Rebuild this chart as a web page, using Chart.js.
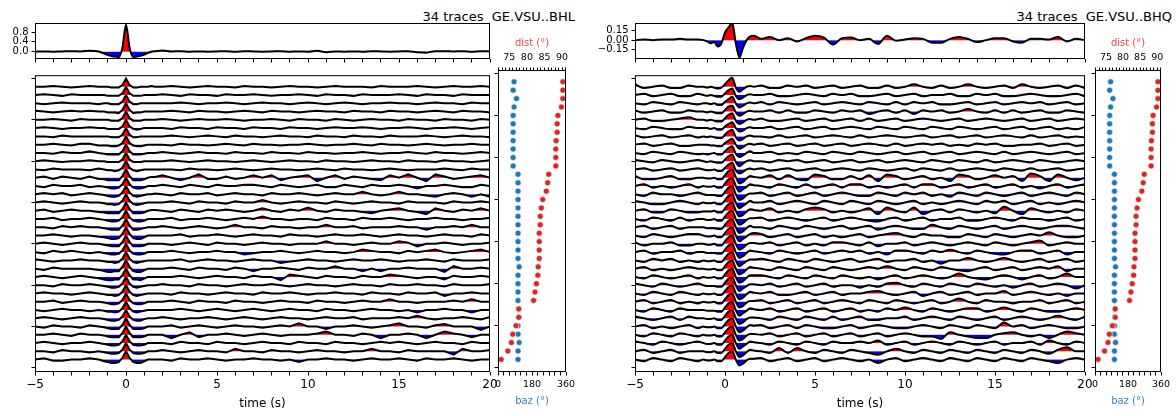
<!DOCTYPE html>
<html lang="en">
<head>
<meta charset="UTF-8">
<title>GE.VSU receiver functions</title>
<script src="https://cdn.jsdelivr.net/npm/chart.js"></script>
<style>
    body { margin: 0; background: #fff; font-family: 'DejaVu Sans', sans-serif; }
    #fig { position: relative; width: 1176px; height: 416px; overflow: hidden; }
    #fig canvas { position: absolute; }
    .title { position: absolute; top: 9px; font-size: 13px; line-height: 15px; white-space: pre; color: #000; }
</style>
</head>
<body>
<div id="fig">
    <div class="title" style="right: 601px">34 traces  GE.VSU..BHL</div>
    <div class="title" style="right: 4px">34 traces  GE.VSU..BHQ</div>
</div>
<script>
// time samples (s): coarse before/after, finer around the direct arrival
const timeAxis = [-5,-4.5,-4,-3.5,-3,-2.5,-2,-1.5,
    -1.2,-1,-0.8,-0.6,-0.4,-0.2,0,0.2,0.4,0.6,0.8,1,1.2,1.4,1.6,
    2,2.5,3,3.5,4,4.5,5,5.5,6,6.5,7,7.5,8,8.5,9,9.5,10,10.5,11,11.5,12,12.5,13,13.5,14,14.5,15,15.5,16,16.5,17,17.5,18,18.5,19,19.5,20];

// stacked traces (amplitude)
const stackL = [0,0.01,0,0.01,0.02,0.01,0.04,0.01,
    -0.08,-0.14,-0.18,-0.2,-0.22,0.15,1.1,0.15,-0.22,-0.2,-0.17,-0.12,-0.05,0,0.02,
    0.05,0.01,0.02,0,0.01,0,0.01,0.02,0,0.02, 0.01,0,0.01,0.02,0,0.01,0,0.04,-0.02,0.01,
    0,0.01,0,0.02,0.01,0,0.01,0.02,-0.02,-0.04, 0.02,0.02,0.01,0.02,0,0.02,0.01];
const stackR = [0,0.01,0,0.01,0.01,0.02,0.01,0.01,
    0,-0.02,-0.05,-0.03,-0.1,-0.05,0.12,0.2,0.27,-0.05,-0.27,-0.12,0,0.06,0.07,
    0.02,0.05,0,0.03,-0.02,0.03,0.07,0.04,-0.07,0.03, 0.04,0,0.02,-0.06,0.07,-0.01,0.01,0.03,0.02,-0.04,
    -0.04,0.02,0.05,0.02,-0.03,0,0.03,0.03,-0.02,-0.04, 0.02,0.02,0.01,0.05,-0.02,0.02,0];

// single traces, amplitude in tenths of the trace spacing (one row per trace, top to bottom)
const tracesL = [
    [0,0,1,0,-1,0,1,0, 0,0,-1,-1,-1,2,10,2,-1,-1,0,0,0,1,0, 0,1,0,-1,0,1,0,0,-1,1, 0,0,-1,0,1,0,0,-1,0,1, 0,0,0,-1,1,0,0,0,1,0, -1,0,1,0,0,1,0],
    [0,1,0,-1,1,0,0,0, 0,-1,-1,-1,-1,2,10,2,-1,-1,-1,0,0,0,0, 1,0,-1,1,0,0,-1,1,0,0, 1,0,-1,0,0,1,0,-1,1,0, 0,-1,1,0,0,0,1,0,-1,1, 0,0,-1,1,0,0,0],
    [0,-1,0,1,0,0,0,-1, 0,0,-1,-1,-1,2,10,2,-1,-1,0,0,0,0,0, 0,0,1,0,-1,0,0,1,0,-1, 0,1,0,0,-1,0,1,0,-1,0, 1,0,-1,0,0,1,0,0,-1,0, 1,0,0,-1,1,0,0],
    [1,0,-1,0,1,0,1,0, 0,-1,-1,-1,-2,2,10,2,-2,-1,-1,0,0,0,0, 0,1,0,-1,1,0,0,-1,0,1, 0,-1,1,0,0,-1,0,1,0,0, -1,1,0,0,-1,1,0,0,-1,0, 1,0,-1,1,0,0,-1],
    [0,0,1,0,-1,1,0,0, 0,0,-1,-1,-1,2,10,2,-1,-1,-1,0,0,0,0, 1,0,-1,0,1,0,0,1,0,-1, 0,0,1,0,-1,1,0,0,-1,1, 0,-1,0,1,0,0,-1,1,0,0, -1,1,0,0,-1,1,0],
    [0,1,0,-1,0,0,1,0, 0,-1,-1,-1,-1,2,10,2,-1,-2,-1,0,0,0,0, 0,-1,1,0,0,-1,1,0,0,-1, 1,0,0,-1,1,0,0,-1,0,1, 0,0,1,0,-1,0,0,1,0,-1, 0,0,1,0,-1,0,1],
    [0,0,-1,1,0,0,0,0, 0,0,-1,-1,-1,2,10,2,-1,-1,0,0,0,0,0, 0,1,0,-1,0,1,0,-1,1,0, 0,-1,0,1,0,0,-1,1,0,0, -1,1,0,0,-1,1,0,0,0,1, 0,-1,0,1,0,0,-1],
    [0,0,1,0,-1,1,1,-1, -1,-1,-2,-2,-1,2,10,2,-1,-2,-2,-1,0,0,0, 0,-1,1,0,0,-1,0,1,0,-1, 1,0,0,-1,0,0,1,0,-1,0, 0,1,0,-1,1,0,0,-1,0,1, 0,-1,0,0,1,0,0],
    [0,0,-1,1,0,0,2,0, -1,-2,-2,-2,-2,2,10,2,-2,-2,-2,-1,0,0,0, 1,0,-1,0,1,0,0,-1,1,0, 0,-1,1,0,0,-1,1,0,0,-1, 0,0,1,0,-1,0,0,1,0,-1, 1,0,0,-1,0,1,0],
    [0,1,0,-1,0,0,1,0, 0,-1,-1,-1,-1,2,10,2,-1,-1,-1,0,0,0,0, 0,1,0,-1,0,1,0,0,-1,0, 1,0,-1,0,1,0,0,-1,1,0, 0,-1,0,1,0,0,-1,1,0,0, -1,1,0,0,-1,0,1],
    [0,-1,1,0,0,0,-1,1, 0,-1,-1,-2,-1,2,10,2,-1,-2,-1,0,0,0,0, 0,0,-1,1,0,0,-1,0,1,0, -1,0,1,0,0,-1,0,1,0,-1, 1,0,0,-1,0,1,0,-1,0,0, 0,1,0,-1,1,0,0],
    [0,1.5,-1.5,1.5,0,-1.5,1.5,-1.5, -2,-3,-3,-3,-3,2,10,2,-3,-3,-3,-2,0,1,1, 3,0,-3,0,4,-1.5,-1.5,1.5,-1.5,0, 3,0,3,-3,0,1.5,3,-4,0,3, -1.5,1.5,0,-1.5,-3,3,0,4,0,-4, 4,1.5,-1.5,0,1.5,3,0],
    [0,-1.5,1.5,0,0,1.5,-1.5,0, -1,-2,-3,-3,-2,2,10,2,-2,-3,-3,-2,0,0,0, 1.5,0,-1.5,1.5,0,-1.5,1.5,0,0,1.5, 1.5,0,-1.5,1.5,0,-1.5,0,1.5,-1.5,-1.5, 1.5,0,-1.5,1.5,0,0,1.5,0,-3,0, 0,1.5,0,-1.5,-1.5,1.5,0],
    [0,1.5,0,1.5,-1.5,0,1.5,0, -1,-2,-3,-3,-2,2,10,2,-2,-3,-2,-1,0,0,1, 0,-1.5,1.5,0,0,1.5,-1.5,0,1.5,0, 0,-1.5,1.5,0,0,1.5,0,-1.5,0,1.5, 0,0,3,0,-1.5,0,3,0,0,-1.5, -3,0,1.5,0,-3,0,-3],
    [0,1.5,0,-1.5,0,1.5,0,0, -1,-2,-2,-3,-2,2,10,2,-2,-3,-2,-1,0,0,0, 0,1.5,0,-1.5,1.5,0,0,-1.5,1.5,0, 0,3,0,-1.5,0,1.5,0,0,-1.5,1.5, 0,-1.5,0,1.5,0,0,-1.5,1.5,0,0, 0,-1.5,1.5,0,0,1.5,0],
    [0,1.5,-1.5,0,1.5,0,0,-1.5, -2,-3,-3,-3,-3,2,10,2,-3,-3,-3,-2,0,1,1, 0,-1.5,1.5,0,-1.5,1.5,0,1.5,0,-1.5, 0,3,0,-1.5,1.5,0,4,0,-1.5,1.5, 0,0,-1.5,-3,0,1.5,3,0,-1.5,-4, 3,0,-1.5,1.5,0,3,0],
    [0,0,1.5,-1.5,0,0,1.5,0, -1,-2,-3,-3,-2,2,10,2,-2,-3,-3,-2,0,0,0, 0,1.5,-1.5,0,0,1.5,0,-1.5,0,1.5, 0,3,0,0,-1.5,0,0,-1.5,1.5,0, 0,-1.5,1.5,0,0,1.5,0,-1.5,0,0, 1.5,0,0,-1.5,0,0,1.5],
    [0,0,-1.5,1.5,0,1.5,0,0, -1,-2,-3,-3,-3,2,10,2,-3,-3,-2,-1,0,0,0, 1.5,0,-1.5,0,1.5,0,-1.5,0,3,0, 0,-1.5,1.5,0,0,-1.5,0,0,3,0, 0,1.5,-1.5,0,0,0,1.5,0,0,-3, 0,0,1.5,0,3,0,0],
    [0,0,1.5,0,-1.5,0,0,-1.5, -2,-3,-4,-4,-3,2,10,2,-3,-4,-4,-2,0,0,0, 0,0,1.5,-1.5,0,0,1.5,0,-1.5,0, 1.5,0,0,-1.5,1.5,0,0,-1.5,0,1.5, 0,0,1.5,0,-1.5,0,1.5,0,0,-1.5, 0,1.5,0,0,-1.5,1.5,0],
    [0,1.5,0,-1.5,0,1.5,0,0, -1,-2,-3,-3,-3,2,10,2,-3,-3,-3,-2,0,0,0, 0,-1.5,0,1.5,0,-1.5,1.5,0,0,-1.5, 0,1.5,0,0,-1.5,0,0,0,3,0, 0,-1.5,0,1.5,0,0,3,1.5,-3,0, 0,1.5,0,-1.5,0,0,1.5],
    [0,-1.5,1.5,0,1.5,0,-1.5,0, -1,-2,-3,-3,-2,2,10,2,-2,-3,-3,-2,0,0,0, 0,1.5,0,-1.5,0,0,1.5,0,0,-3, -1.5,0,0,1.5,0,-1.5,0,1.5,0,0, -1.5,0,3,1.5,0,0,-1.5,1.5,0,1.5, 3,0,-1.5,0,1.5,3,0],
    [1.5,0,-1.5,0,0,1.5,0,0, -1,-2,-2,-3,-2,2,10,2,-2,-3,-2,-1,0,0,0, 0,0,1.5,-1.5,0,1.5,0,0,-1.5,0, 1.5,0,0,-3,-1.5,0,1.5,0,0,-1.5, 0,1.5,0,0,1.5,0,-1.5,0,0,1.5, 0,-1.5,1.5,0,0,0,1.5],
    [0,-1.5,1.5,0,0,0,0,-1.5, -3,-4,-4,-3,-3,2,10,2,-3,-4,-4,-2,0,0,0, 0,1.5,0,-1.5,1.5,0,0,-1.5,1.5,0, -3,0,0,1.5,0,-1.5,1.5,0,0,3, 0,0,-3,0,-3,0,0,1.5,0,0, 0,-4,3,0,0,1.5,0],
    [0,1.5,0,-1.5,0,1.5,0,-1.5, -3,-4,-4,-3,-3,2,10,2,-3,-3,-4,-2,0,0,0, 0,0,1.5,0,-1.5,0,1.5,0,0,-1.5, 1.5,0,0,-4,3,1.5,0,-1.5,1.5,0, 0,-1.5,1.5,0,0,3,1.5,0,-1.5,0, 0,-3,1.5,0,0,1.5,0],
    [0,0,-1.5,1.5,0,0,1.5,0, -1,-2,-3,-3,-2,2,10,2,-2,-3,-2,-1,0,0,0, 1.5,0,0,-1.5,1.5,0,0,-1.5,0,1.5, 0,0,1.5,0,-1.5,0,1.5,0,0,-1.5, 0,1.5,0,0,-1.5,1.5,0,0,1.5,0, 0,-1.5,1.5,0,0,0,1.5],
    [0,1.5,0,0,-1.5,0,1.5,0, -1,-2,-2,-3,-2,2,10,2,-2,-3,-2,-1,0,0,0, 0,-1.5,1.5,0,0,-1.5,0,1.5,0,0, -1.5,1.5,0,0,1.5,0,-1.5,0,0,1.5, 0,0,-1.5,1.5,0,0,-1.5,1.5,0,0, 1.5,-3,0,0,1.5,0,0],
    [0,0,1.5,-1.5,0,1.5,0,0, -1,-2,-3,-3,-2,2,10,2,-2,-3,-3,-2,0,0,0, 0,1.5,0,-1.5,1.5,0,0,-1.5,1.5,0, 0,-1.5,0,1.5,0,0,-1.5,1.5,0,0, -1.5,0,1.5,0,0,3,0,0,-1.5,0, 0,0,1.5,0,3,0,0],
    [0,-1.5,0,1.5,0,0,-1.5,0, -1,-2,-2,-3,-2,2,10,2,-2,-3,-2,-1,0,0,0, 0,0,1.5,0,-1.5,0,1.5,0,-1.5,0, 1.5,0,-1.5,0,1.5,0,0,-1.5,1.5,0, 0,-1.5,0,1.5,0,0,-1.5,0,-3,0, 0,1.5,0,0,-3,0,0],
    [0,1.5,0,-1.5,0,1.5,0,0, -1,-2,-3,-3,-2,2,10,2,-2,-3,-3,-1,0,0,0, 1.5,0,-1.5,0,0,1.5,0,-1.5,0,1.5, 0,-1.5,0,1.5,0,0,-1.5,0,1.5,0, 0,1.5,-1.5,0,0,0,1.5,0,3,0, -1.5,0,0,1.5,0,-1.5,1.5],
    [0,-1.5,1.5,0,0,-1.5,1.5,0, -1,-2,-3,-3,-3,2,10,2,-3,-3,-3,-2,0,0,0, 0,1.5,-1.5,0,1.5,0,-1.5,0,1.5,0, 0,-1.5,0,1.5,0,4,0,0,-3,0, 0,1.5,0,-1.5,0,1.5,4,0,0,-1.5, 1.5,3,0,0,0,-4,0],
    [0,0,1.5,0,-1.5,1.5,0,0, -1,-2,-3,-3,-3,2,10,2,-3,-3,-3,-2,0,0,0, 0,-4,0,3,-3,0,0,1.5,0,-1.5, 0,1.5,0,-1.5,0,0,0,1.5,4,0, 0,-1.5,1.5,0,-4,0,0,1.5,0,-4, 0,4,1.5,0,-3,0,0],
    [0,1.5,0,-1.5,0,0,1.5,0, -1,-2,-3,-3,-2,2,10,2,-2,-3,-3,-2,0,0,0, 0,-1.5,1.5,0,0,-1.5,1.5,0,0,-1.5, 0,1.5,0,0,-1.5,1.5,0,0,-1.5,1.5, 0,0,-1.5,0,1.5,0,1.5,0,-1.5,0, 1.5,0,0,-1.5,1.5,0,0],
    [0,0,-1.5,1.5,0,0,-1.5,0, -1,-2,-3,-3,-2,2,10,2,-2,-3,-3,-2,0,0,0, 1.5,0,-1.5,0,1.5,0,0,-1.5,3,0, 0,-1.5,1.5,0,0,-1.5,0,1.5,0,0, -1.5,0,0,3,0,0,-1.5,1.5,0,0, 0,0,-4,3,0,0,1.5],
    [0,1.5,-1.5,-1.5,0,0,1.5,0, -2,-3,-4,-4,-3,2,10,2,-3,-4,-4,-2,0,0,0, 0,-1.5,1.5,0,0,1.5,0,-1.5,0,0, 1.5,0,0,-1.5,0,-3,0,0,1.5,0, 0,-1.5,0,1.5,0,0,1.5,0,-1.5,1.5, 0,0,1.5,0,-1.5,0,0]
];

const tracesR = [
    [3,-1.5,0,1.5,-1.5,-1.5,1.5,0, 0,-1,0,-1,-2,-1,3,8,11,-1,-6,-3,0,1,0, 1.5,-1.5,-1.5,1.5,0,1.5,-1.5,0,1.5,-1.5, 0,1.5,-1.5,-1.5,1.5,-1.5,0,3,0,-1.5, 1.5,-1.5,0,3,0,-1.5,0,1.5,-1.5,3, 0,-1.5,0,1.5,-1.5,1.5,-1.5],
    [0,1.5,-1.5,0,1.5,-1.5,-1.5,1.5, 0,-1,0,-1,-2,-2,2,6,8,-1,-5,-3,0,1,0, 0,1.5,-1.5,-1.5,0,1.5,0,-1.5,1.5,0, 1.5,-1.5,-1.5,0,1.5,-1.5,0,1.5,-1.5,0, 0,1.5,-1.5,-1.5,1.5,0,1.5,-1.5,-1.5,0, 1.5,0,-1.5,-1.5,0,1.5,-1.5],
    [0,-1.5,1.5,0,-1.5,1.5,0,-1.5, 0,0,-1,0,-2,-2,2,5,8,0,-5,-3,0,1,0, 1.5,-1.5,1.5,0,-1.5,0,1.5,-1.5,0,1.5, 0,-1.5,1.5,0,-1.5,1.5,-1.5,1.5,0,1.5, -1.5,-1.5,0,1.5,-1.5,0,1.5,-1.5,0,1.5, 0,1.5,-1.5,0,1.5,-1.5,0],
    [1.5,-1.5,0,1.5,-1.5,-1.5,1.5,0, 0,-1,0,-1,-2,-2,2,6,7,-1,-5,-3,0,1,0, 0,1.5,-1.5,1.5,-1.5,-1.5,1.5,0,-1.5,1.5, 0,1.5,-3,0,1.5,-1.5,1.5,-3,1.5,0, 1.5,-1.5,0,3,0,-1.5,1.5,-1.5,1.5,-1.5, 0,1.5,-1.5,-1.5,1.5,0,-1.5],
    [0,1.5,-1.5,-1.5,0,1.5,3,0, 0,-1,0,-1,-2,-2,2,6,8,-1,-5,-3,0,1,0, 1.5,-1.5,-1.5,0,1.5,-1.5,0,1.5,-1.5,0, 1.5,-1.5,1.5,-1.5,0,1.5,-1.5,0,1.5,0, -1.5,0,1.5,-1.5,0,1.5,0,-1.5,0,1.5, -1.5,0,1.5,-1.5,0,1.5,0],
    [0,-1.5,1.5,0,-1.5,-1.5,1.5,0, 0,0,-1,0,-2,-2,2,5,7,0,-4,-3,0,1,0, 0,1.5,-1.5,0,1.5,-1.5,0,1.5,-1.5,0, 1.5,0,-1.5,1.5,0,-1.5,1.5,0,-1.5,1.5, 0,-1.5,1.5,0,-1.5,0,1.5,-1.5,0,1.5, -1.5,0,1.5,-1.5,0,-1.5,1.5],
    [1.5,-1.5,0,1.5,-1.5,0,1.5,-1.5, 0,-1,0,-1,-2,-2,2,6,8,-1,-5,-3,0,1,0, 0,-1.5,1.5,-1.5,0,1.5,-1.5,0,1.5,0, -1.5,1.5,-1.5,0,1.5,0,-1.5,0,1.5,-1.5, 0,1.5,-1.5,0,1.5,-1.5,0,1.5,0,-1.5, 1.5,-1.5,0,1.5,-1.5,0,-1.5],
    [0,1.5,-1.5,0,1.5,-1.5,-1.5,0, 0,0,-1,-1,-2,-2,2,5,7,0,-5,-3,0,1,0, 1.5,-1.5,0,1.5,-1.5,0,1.5,-1.5,0,1.5, -1.5,0,1.5,0,-1.5,1.5,-1.5,0,1.5,0, 1.5,-1.5,0,-1.5,1.5,0,1.5,-1.5,-1.5,0, 0,1.5,-1.5,0,1.5,-1.5,0],
    [0,-1.5,1.5,0,-1.5,1.5,0,-1.5, -1,-2,-1,0,-2,-2,2,6,8,-1,-5,-3,0,2,0, 0,1.5,-1.5,0,-1.5,1.5,0,-1.5,1.5,0, -1.5,1.5,0,-1.5,0,1.5,-1.5,0,1.5,-1.5, 0,1.5,-1.5,0,1.5,0,-1.5,1.5,-1.5,0, 1.5,0,-1.5,0,1.5,-1.5,0],
    [1.5,0,-1.5,1.5,0,-1.5,0,1.5, 0,-1,0,-1,-2,-2,2,6,8,-1,-6,-3,0,1,0, 0,-1.5,1.5,0,1.5,-1.5,0,1.5,-1.5,0, 1.5,-1.5,0,1.5,-1.5,0,1.5,0,-1.5,1.5, 0,-1.5,1.5,0,-1.5,1.5,-1.5,0,1.5,0, -1.5,1.5,0,-1.5,0,1.5,0],
    [0,1.5,-1.5,0,1.5,-1.5,0,1.5, 0,-1,-1,0,-2,-2,2,6,8,-1,-5,-3,0,1,0, 1.5,-1.5,0,1.5,-1.5,0,1.5,-1.5,0,1.5, 0,-1.5,1.5,0,-1.5,0,1.5,-1.5,1.5,0, -1.5,1.5,-1.5,0,1.5,0,-1.5,1.5,0,-1.5, 1.5,-1.5,0,1.5,-1.5,0,1.5],
    [2,-2,-2,0,2,-2,-2,0, 0,-1,-1,0,-2,-2,3,8,10,1,-7,-5,-1,2,1, 0,3,-2,3,-2,-3,4,2,-2,-2, 2,-2,3,-4,4,2,-2,0,2,-2, 0,-4,4,2,-2,0,3,0,2,-4, 5,2,-4,4,0,-3,0],
    [0,2,-2,0,-2,0,2,-2, 0,-1,-1,0,-2,-2,3,8,10,0,-7,-4,-1,2,1, 0,-2,2,0,-2,2,-2,0,2,-2, 2,2,-2,0,-2,0,2,-2,2,2, -2,0,2,-2,0,2,-2,0,2,-2, 0,-3,0,2,-2,0,2],
    [0,-2,2,0,0,-2,0,2, 0,-1,-1,-1,-2,-2,3,8,10,0,-7,-5,-1,1,1, 2,-2,0,2,-2,0,2,-2,0,2, 0,-2,-2,2,0,-2,2,0,2,-2, 0,-3,2,0,-2,2,0,-2,0,2, -2,0,2,0,-2,2,0],
    [2,0,-2,-2,0,2,0,-2, 0,-1,-1,0,-2,-2,3,8,10,0,-7,-4,-1,2,0, 0,2,-2,0,2,0,-2,2,0,-2, 2,0,-2,2,0,-2,0,2,-2,0, -2,0,2,0,-2,2,0,2,-2,0, 2,-2,0,-2,0,2,0],
    [0,2,-2,-2,2,0,-2,-2, -1,-1,-1,0,-2,-2,3,8,10,0,-7,-5,-1,2,1, 0,3,-2,0,-2,2,4,2,-2,0, -2,0,3,-4,4,0,-2,4,-4,0, 2,-2,2,0,-2,0,-3,5,0,-4, 3,0,-2,0,-2,2,0],
    [0,-2,2,0,-2,2,-2,0, 0,-1,-1,0,-2,-2,3,8,10,0,-7,-5,-1,1,1, 2,-2,0,2,0,-2,0,2,-2,0, 2,0,-2,-3,0,2,-2,0,2,-2, 0,0,2,-2,-2,0,2,0,-2,2, 0,0,-2,0,2,-2,0],
    [0,2,-2,0,2,-2,0,0, 0,-1,-1,-1,-2,-2,3,8,10,0,-7,-5,-1,2,0, 0,-2,2,0,-2,2,0,-2,0,2, -2,0,2,-3,0,2,0,-2,-2,3, 0,-2,2,0,-2,0,2,-2,0,2, 0,-2,0,2,2,0,-2],
    [0,-2,2,0,-2,0,2,2, 0,-1,-1,0,-2,-2,3,8,10,0,-7,-4,-1,2,3, 2,-2,0,2,-2,0,2,-2,0,-2, 0,2,-2,0,2,3,0,-2,2,0, 0,-2,-2,2,0,-2,2,0,-2,0, 2,0,4,0,-2,-2,0],
    [2,-2,0,0,2,-2,-2,0, 0,-1,-1,0,-2,-2,3,8,10,0,-7,-5,-1,1,1, 0,2,-2,0,2,-2,0,-2,2,2, 0,-2,2,-3,0,0,2,-2,0,2, 0,-2,0,2,0,-2,2,0,-2,0, 2,4,-2,0,2,0,0],
    [0,2,-2,0,0,2,-2,0, 0,-1,-1,-1,-2,-2,3,8,10,0,-7,-5,-1,2,1, 0,-2,2,0,-2,0,2,-2,0,2, 0,2,-2,0,-3,2,2,0,-2,2, 0,3,0,-2,2,0,-2,-3,0,2, 2,-2,0,2,-3,0,0],
    [0,-2,2,0,2,-2,0,-2, 0,-1,-1,0,-2,-2,3,8,10,0,-7,-4,-1,1,1, 2,0,-2,2,0,-2,2,0,-2,0, 2,-2,0,2,-2,0,0,2,-2,0, -4,0,0,3,0,-2,0,3,0,-2, 0,2,-2,0,2,-2,0],
    [0,2,-2,0,-2,0,2,0, 0,-1,-1,0,-2,-2,3,8,10,0,-7,-5,-1,2,1, 0,-2,2,0,-2,2,0,-2,2,0, -2,0,2,0,3,0,-2,2,0,-2, 2,0,-2,-3,0,2,-2,0,2,-2, 0,2,0,3,-3,0,0],
    [0,-2,2,0,-2,0,2,-2, 0,-1,-1,0,-2,-2,3,8,10,0,-7,-5,-1,2,2, 2,0,-2,2,0,-2,2,0,-2,2, 0,-2,0,-3,0,2,-2,0,2,0, -2,0,4,0,-2,-3,0,2,0,-3, 0,2,-2,0,4,0,0],
    [2,0,-2,2,0,-2,0,2, 0,-1,-1,-1,-2,-2,3,8,10,0,-7,-4,-1,1,1, 0,2,-2,0,2,-2,0,2,-2,0, 0,-3,0,-2,2,3,0,-2,2,0, -2,2,0,-2,2,0,-2,0,-3,0, 2,-2,0,2,0,-4,0],
    [0,-2,2,0,-2,2,0,-2, 0,-1,-1,0,-2,-2,3,8,10,0,-7,-5,-1,2,1, 0,2,-2,-2,0,2,-2,0,2,-2, 0,0,2,3,0,-2,0,2,-3,0, 2,-2,0,2,-2,0,0,3,-2,0, 2,0,-2,0,-3,0,0],
    [0,2,-2,0,2,-2,0,-2, 0,-1,-1,0,-2,-2,3,8,10,0,-7,-5,-1,1,1, 2,-2,0,2,-2,0,2,-2,0,2, 0,-2,2,0,-2,2,0,-2,0,2, -2,0,4,0,-2,2,0,0,-2,0, 0,2,-2,0,2,-2,0],
    [0,-2,2,0,-2,2,0,0, 0,-1,-1,-1,-2,-2,3,8,10,0,-7,-4,-1,2,1, 0,2,-2,0,2,-2,0,2,-2,0, 2,-2,0,-2,2,0,3,0,-2,2, 0,-2,0,2,2,-2,0,3,0,-2, 2,0,-2,-2,0,2,0],
    [2,0,-2,0,2,-2,2,0, 0,-1,-1,0,-2,-2,3,8,10,0,-7,-5,-1,1,1, 0,-2,2,0,-2,2,0,-2,2,-2, 0,2,-2,-2,0,0,2,-2,0,2, 0,-2,2,0,-2,0,2,-2,0,2, 0,-2,0,3,0,-2,2],
    [0,2,-2,0,-2,0,2,-2, 0,-1,-1,0,-2,-2,3,8,10,0,-7,-5,-1,2,1, 2,-2,0,2,-2,2,0,-2,-2,0, 2,-2,0,2,0,-2,-2,0,2,0, -2,2,0,-2,2,0,-2,5,0,2, -2,0,2,0,-2,-2,0],
    [0,-2,2,0,-2,2,0,-2, 0,-1,-1,0,-2,-2,3,8,10,0,-7,-5,-1,1,1, 0,2,-2,0,2,-2,0,2,-2,0, 2,-2,0,2,-2,0,2,0,-2,-2, -5,3,0,-2,-4,-4,0,2,3,0, -2,0,-4,0,4,2,0],
    [2,0,-2,2,0,-2,0,2, 0,-1,-1,0,-2,-2,3,8,10,0,-7,-4,-1,2,1, 0,-2,2,0,-2,2,0,-2,2,0, 0,2,0,3,-2,0,2,-2,0,2, 0,-2,2,0,-2,0,2,-2,0,0, 2,-2,3,0,-2,2,0],
    [0,2,-2,0,2,-2,0,0, 0,-1,-1,0,-2,-2,3,8,10,0,-7,-5,-1,2,1, 0,-2,4,-2,4,0,-2,2,0,-2, 2,0,-2,-4,0,3,0,-2,2,0, -2,2,0,-2,2,0,-2,2,0,-2, 2,0,-3,2,5,0,0],
    [0,-2,2,0,-2,2,0,-2, 0,-1,-1,0,-2,-2,3,8,10,0,-7,-5,-1,1,1, 2,-2,0,2,-2,0,2,-2,0,2, 0,-2,0,-4,0,2,-2,0,2,0, -2,2,0,-2,2,0,-2,2,0,-2, 2,0,-2,-4,0,2,0]
];

// epicentral distance and back azimuth of each trace (degrees)
const dist = [90.2,90.2,90.2,89.8,88.8,88.6,88.6,88.3,88.2,88.2,88.2,86.2,85.9,85.5,84.5,84.1,83.8,83.8,
    83.5,83.5,83.5,83.5,83.2,83.1,82.7,82.3,81.9,77.7,77.7,76.9,76.0,75.6,74.6,72.7];
const baz = [85,80,98,85,80,80,80,80,80,80,80,106,106,106,106,106,106,106,106,106,106,106,112,106,
    106,106,106,110,110,106,106,112,106,106];

Chart.defaults.font.family = "'DejaVu Sans', sans-serif";
Chart.defaults.color = '#000';

const fig = document.getElementById('fig');
const rowMin = -0.4, rowMax = 35.5;

function fmt(v) {
    return String(v).replace('-', '\u2212');
}

// белый фон и рамка вокруг области графика
const framePlugin = {
    id: 'frame',
    beforeDraw(chart) {
        const a = chart.chartArea, ctx = chart.ctx;
        ctx.save();
        ctx.fillStyle = '#fff';
        ctx.fillRect(a.left, a.top, a.right - a.left, a.bottom - a.top);
        ctx.restore();
    },
    afterDraw(chart) {
        const a = chart.chartArea, ctx = chart.ctx;
        ctx.save();
        ctx.strokeStyle = '#000';
        ctx.lineWidth = 1;
        ctx.strokeRect(a.left + 0.5, a.top + 0.5, a.right - a.left - 1, a.bottom - a.top - 1);
        ctx.restore();
    }
};

const tickGrid = { drawOnChartArea: false, drawTicks: true, tickLength: 3.5, color: '#000', lineWidth: 1 };

// canvas placed so that its chart area lands on rect
function place(rect, pad, config) {
    const c = document.createElement('canvas');
    c.width = rect.w + pad.l + pad.r;
    c.height = rect.h + pad.t + pad.b;
    c.style.left = (rect.x - pad.l) + 'px';
    c.style.top = (rect.y - pad.t) + 'px';
    fig.appendChild(c);
    config.plugins = [framePlugin];
    Object.assign(config.options, {
        responsive: false,
        animation: false,
        devicePixelRatio: 1,
        events: []
    });
    config.options.plugins = { legend: { display: false }, tooltip: { enabled: false } };
    return new Chart(c, config);
}

function stackChart(rect, values, yMin, yMax, step, digits) {
    const pad = { l: 40, r: 8, t: 4, b: 8 };
    return place(rect, pad, {
        type: 'line',
        data: {
            datasets: [{
                data: timeAxis.map((t, j) => ({ x: t, y: values[j] })),
                borderColor: '#000', borderWidth: 2, pointRadius: 0,
                cubicInterpolationMode: 'monotone',
                fill: { target: 'origin', above: '#ff0000', below: '#0000ff' }
            }]
        },
        options: {
            layout: { padding: { left: 0, right: pad.r, top: pad.t, bottom: 0 } },
            scales: {
                x: {
                    type: 'linear', min: -5, max: 20,
                    ticks: { stepSize: 1, autoSkip: false, callback: () => '' },
                    grid: tickGrid, border: { display: false },
                    afterFit: s => { s.height = pad.b; }
                },
                y: {
                    type: 'linear', min: yMin, max: yMax,
                    ticks: { stepSize: step, includeBounds: false, font: { size: 10 }, padding: 3,
                        callback: v => fmt(v.toFixed(digits)) },
                    grid: tickGrid, border: { display: false },
                    afterFit: s => { s.width = pad.l; }
                }
            }
        }
    });
}

function mainChart(rect, traces, smooth) {
    const pad = { l: 35, r: 12, t: 5, b: 42 };
    const datasets = traces.map((amp, i) => ({
        data: timeAxis.map((t, j) => ({ x: t, y: i + 1 - amp[j] / 10 })),
        borderColor: '#000', borderWidth: 2, pointRadius: 0,
        cubicInterpolationMode: smooth ? 'monotone' : 'default',
        tension: 0,
        fill: { target: { value: i + 1 }, above: '#ff0000', below: '#0000ff' }
    }));
    return place(rect, pad, {
        type: 'line',
        data: { datasets },
        options: {
            layout: { padding: { left: 0, right: pad.r, top: pad.t, bottom: 0 } },
            scales: {
                x: {
                    type: 'linear', min: -5, max: 20,
                    ticks: { stepSize: 1, autoSkip: false, maxRotation: 0, font: { size: 12 }, padding: 2,
                        callback: v => (v % 5 === 0 ? fmt(v) : '') },
                    grid: tickGrid, border: { display: false },
                    title: { display: true, text: 'time (s)', font: { size: 12 }, padding: { top: 0, bottom: 3 } },
                    afterFit: s => { s.height = pad.b; }
                },
                y: {
                    type: 'linear', reverse: true, min: rowMin, max: rowMax,
                    ticks: { stepSize: 5, includeBounds: false, callback: () => '' },
                    grid: tickGrid, border: { display: false },
                    afterFit: s => { s.width = pad.l; }
                }
            }
        }
    });
}

function sideChart(rect) {
    const pad = { l: 10, r: 15, t: 34, b: 40 };
    const rows = dist.map((d, i) => i + 1);
    return place(rect, pad, {
        type: 'scatter',
        data: {
            datasets: [
                {
                    data: dist.map((d, i) => ({ x: d, y: rows[i] })),
                    xAxisID: 'xd',
                    backgroundColor: '#d62728', borderColor: '#fff', borderWidth: 0.6, pointRadius: 3
                },
                {
                    data: baz.map((b, i) => ({ x: b, y: rows[i] })),
                    xAxisID: 'x',
                    backgroundColor: '#1f77b4', borderColor: '#fff', borderWidth: 0.6, pointRadius: 3
                }
            ]
        },
        options: {
            layout: { padding: { left: 0, right: pad.r, top: 0, bottom: 0 } },
            scales: {
                x: {
                    type: 'linear', position: 'bottom', min: 0, max: 360,
                    ticks: { stepSize: 30, autoSkip: false, maxRotation: 0, font: { size: 9.5 }, padding: 3,
                        callback: v => (v % 180 === 0 ? String(v) : '') },
                    grid: tickGrid, border: { display: false },
                    title: { display: true, text: 'baz (°)', color: '#3a86c0', font: { size: 10 }, padding: { top: 0, bottom: 5 } },
                    afterFit: s => { s.height = pad.b; }
                },
                xd: {
                    type: 'linear', position: 'top', min: 71.8, max: 91.1,
                    ticks: { stepSize: 1, includeBounds: false, autoSkip: false, maxRotation: 0, font: { size: 9.5 }, padding: 4,
                        callback: v => (v % 5 === 0 ? String(v) : '') },
                    grid: { drawOnChartArea: false, drawTicks: true, tickLength: 2.5, color: '#000', lineWidth: 1 },
                    border: { display: false },
                    title: { display: true, text: 'dist (°)', color: '#e04a4b', font: { size: 10 }, padding: { top: 1, bottom: 0 } },
                    afterFit: s => { s.height = pad.t; }
                },
                y: {
                    type: 'linear', reverse: true, min: rowMin, max: rowMax,
                    ticks: { stepSize: 5, includeBounds: false, callback: () => '' },
                    grid: tickGrid, border: { display: false },
                    afterFit: s => { s.width = pad.l; }
                }
            }
        }
    });
}

stackChart({ x: 35, y: 18, w: 455, h: 42 }, stackL, -0.3, 1.17, 0.4, 1);
mainChart({ x: 35, y: 70, w: 455, h: 302 }, tracesL, false);
sideChart({ x: 498, y: 70, w: 68, h: 302 });

stackChart({ x: 635, y: 18, w: 450, h: 42 }, stackR, -0.295, 0.268, 0.15, 2);
mainChart({ x: 635, y: 70, w: 450, h: 302 }, tracesR, true);
sideChart({ x: 1095, y: 70, w: 66, h: 302 });
</script>
</body>
</html>
